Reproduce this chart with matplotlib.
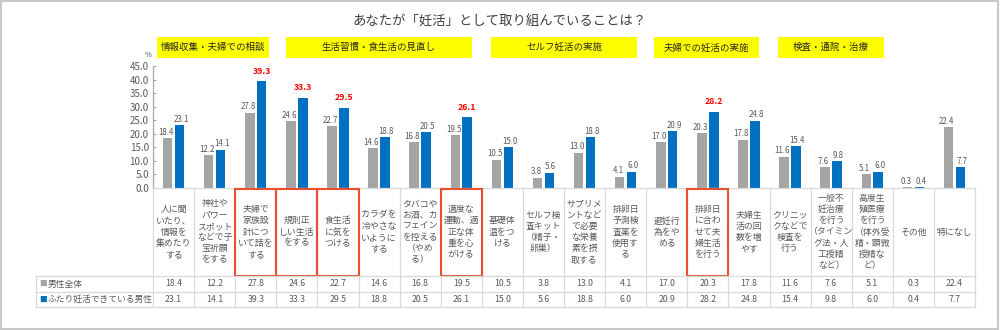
import matplotlib
matplotlib.use("Agg")
import matplotlib.pyplot as plt
from matplotlib.patches import Rectangle
from matplotlib.transforms import blended_transform_factory

plt.rcParams['font.family'] = ['Noto Sans CJK JP', 'DejaVu Sans']

title = "あなたが「妊活」として取り組んでいることは？"

categories = [
    "人に聞\nいたり、\n情報を\n集めたり\nする",
    "神社や\nパワー\nスポット\nなどで子\n宝祈願\nをする",
    "夫婦で\n家族設\n計につ\nいて話を\nする",
    "規則正\nしい生活\nをする",
    "食生活\nに気を\nつける",
    "カラダを\n冷やさな\nいように\nする",
    "タバコや\nお酒、カ\nフェイン\nを控える\n（やめ\nる）",
    "適度な\n運動、適\n正な体\n重を心\nがける",
    "基礎体\n温をつ\nける",
    "セルフ検\n査キット\n（精子・\n卵巣）",
    "サプリメ\nントなど\nで必要\nな栄養\n素を摂\n取する",
    "排卵日\n予測検\n査薬を\n使用す\nる",
    "避妊行\n為をや\nめる",
    "排卵日\nに合わ\nせて夫\n婦生活\nを行う",
    "夫婦生\n活の回\n数を増\nやす",
    "クリニッ\nクなどで\n検査を\n行う",
    "一般不\n妊治療\nを行う\n（タイミン\nグ法・人\n工授精\nなど）",
    "高度生\n殖医療\nを行う\n（体外受\n精・顕微\n授精な\nど）",
    "その他",
    "特になし",
]

series_names = ["男性全体", "ふたり妊活できている男性"]
men_all = [18.4, 12.2, 27.8, 24.6, 22.7, 14.6, 16.8, 19.5, 10.5, 3.8,
           13.0, 4.1, 17.0, 20.3, 17.8, 11.6, 7.6, 5.1, 0.3, 22.4]
men_couple = [23.1, 14.1, 39.3, 33.3, 29.5, 18.8, 20.5, 26.1, 15.0, 5.6,
              18.8, 6.0, 20.9, 28.2, 24.8, 15.4, 9.8, 6.0, 0.4, 7.7]

# items singled out with red value labels and red frames
highlighted = [2, 3, 4, 7, 13]

group_names = ["情報収集・夫婦での相談", "生活習慣・食生活の見直し",
               "セルフ妊活の実施", "夫婦での妊活の実施", "検査・通院・治療"]

y_ticks = [0, 5, 10, 15, 20, 25, 30, 35, 40, 45]

GRAY = "#a5a5a5"
BLUE = "#0070c0"
TXT = "#595959"
GRID = "#d9d9d9"
RED = "#ff0000"
FRAME_RED = "#e8502e"

W, H = 1000, 330
fig = plt.figure(figsize=(W / 100, H / 100), dpi=100)


def fx(px):
    return px / W


def fy(py):
    return 1 - py / H


# plot area in pixels
ax_left, ax_right, ax_top, ax_bottom = 153, 975, 66, 188
ax = fig.add_axes([fx(ax_left), fy(ax_bottom), fx(ax_right - ax_left),
                   (ax_bottom - ax_top) / H])

n = len(categories)
xs = list(range(n))
bw = 0.23
off = 0.145
ax.bar([x - off for x in xs], men_all, width=bw, color=GRAY, zorder=2)
ax.bar([x + off for x in xs], men_couple, width=bw, color=BLUE, zorder=2)

ax.set_xlim(-0.5, n - 0.5)
ax.set_ylim(0, 45)
ax.set_yticks(y_ticks)
ax.set_yticklabels([f"{v:.1f}" for v in y_ticks])
ax.set_xticks([])
ax.tick_params(axis='y', direction='in', length=2.5, width=0.8,
               colors="#a6a6a6", labelcolor=TXT, labelsize=7, pad=3)
for s in ("top", "right"):
    ax.spines[s].set_visible(False)
ax.spines["left"].set_color("#a6a6a6")
ax.spines["left"].set_linewidth(0.9)
ax.spines["bottom"].set_color(GRID)
ax.spines["bottom"].set_linewidth(0.9)

# value labels above bars
for i in xs:
    ax.annotate(f"{men_all[i]:.1f}", (i - off, men_all[i]), xytext=(-1.2, 1),
                textcoords="offset points", ha="center", va="bottom",
                fontsize=5.7, color=TXT, zorder=3)
    if i in highlighted:
        ax.annotate(f"{men_couple[i]:.1f}", (i + off, men_couple[i]),
                    xytext=(0, 4), textcoords="offset points", ha="center",
                    va="bottom", fontsize=6.3, color=RED, fontweight="bold",
                    zorder=3)
    else:
        ax.annotate(f"{men_couple[i]:.1f}", (i + off, men_couple[i]),
                    xytext=(1, 1), textcoords="offset points", ha="center",
                    va="bottom", fontsize=5.7, color=TXT, zorder=3)

ax.text(fx(148), fy(55), "%", transform=fig.transFigure, ha="center",
        va="center", fontsize=5.5, color=TXT)

# data table under the chart
bt = blended_transform_factory(ax.transData, fig.transFigure)
t_top, r1, r2, t_bot = 188, 276, 292, 307
lab_left = 36

for b in [i - 0.5 for i in range(n + 1)]:
    ax.plot([b, b], [fy(t_top), fy(t_bot)], transform=bt, color=GRID,
            lw=0.9, clip_on=False, zorder=1)
for yy in (r1, r2, t_bot):
    fig.add_artist(plt.Line2D([fx(lab_left), fx(ax_right)], [fy(yy), fy(yy)],
                              color=GRID, lw=0.9))
fig.add_artist(plt.Line2D([fx(lab_left), fx(lab_left)], [fy(r1), fy(t_bot)],
                          color=GRID, lw=0.9))

for i, lab in enumerate(categories):
    ax.text(i, fy((t_top + r1) / 2), lab, transform=bt, ha="center",
            va="center", fontsize=6.4, color=TXT, linespacing=1.32,
            clip_on=False)
    ax.text(i, fy((r1 + r2) / 2), f"{men_all[i]:.1f}", transform=bt,
            ha="center", va="center", fontsize=6.3, color=TXT)
    ax.text(i, fy((r2 + t_bot) / 2), f"{men_couple[i]:.1f}", transform=bt,
            ha="center", va="center", fontsize=6.3, color=TXT)

for (ytop, ybot), name, col in zip(((r1, r2), (r2, t_bot)), series_names,
                                   (GRAY, BLUE)):
    yc = fy((ytop + ybot) / 2)
    fig.text(fx(39.5), yc, "■", color=col, fontsize=5.5, ha="left",
             va="center")
    fig.text(fx(47.5), yc, name, color=TXT, fontsize=6.3, ha="left",
             va="center")

# red frames around highlighted items
for i in highlighted:
    ax.add_patch(Rectangle((i - 0.5, fy(275.5)), 1.0, fy(189) - fy(275.5),
                           transform=bt, fill=False, edgecolor=FRAME_RED,
                           lw=1.5, clip_on=False, zorder=4))

# group headers
group_spans = [(157, 269), (286, 472), (491, 637), (654, 759), (778, 884)]
for (x0, x1), name in zip(group_spans, group_names):
    fig.add_artist(Rectangle((fx(x0), fy(58)), fx(x1 - x0), (58 - 37) / H,
                             transform=fig.transFigure, facecolor="#ffff00",
                             edgecolor="none"))
    fig.text(fx((x0 + x1) / 2), fy(47.5), name, ha="center", va="center",
             fontsize=6.8, color="#262626")

fig.text(0.5, fy(22), title, ha="center", va="center", fontsize=9.6,
         color="#404040")

# outer frame
fig.add_artist(Rectangle((0.0008, 0.002), 0.9975, 0.994,
                         transform=fig.transFigure, fill=False,
                         edgecolor="#c8c8c8", lw=1.5))

fig.savefig("out.png", dpi=100, facecolor="white")
